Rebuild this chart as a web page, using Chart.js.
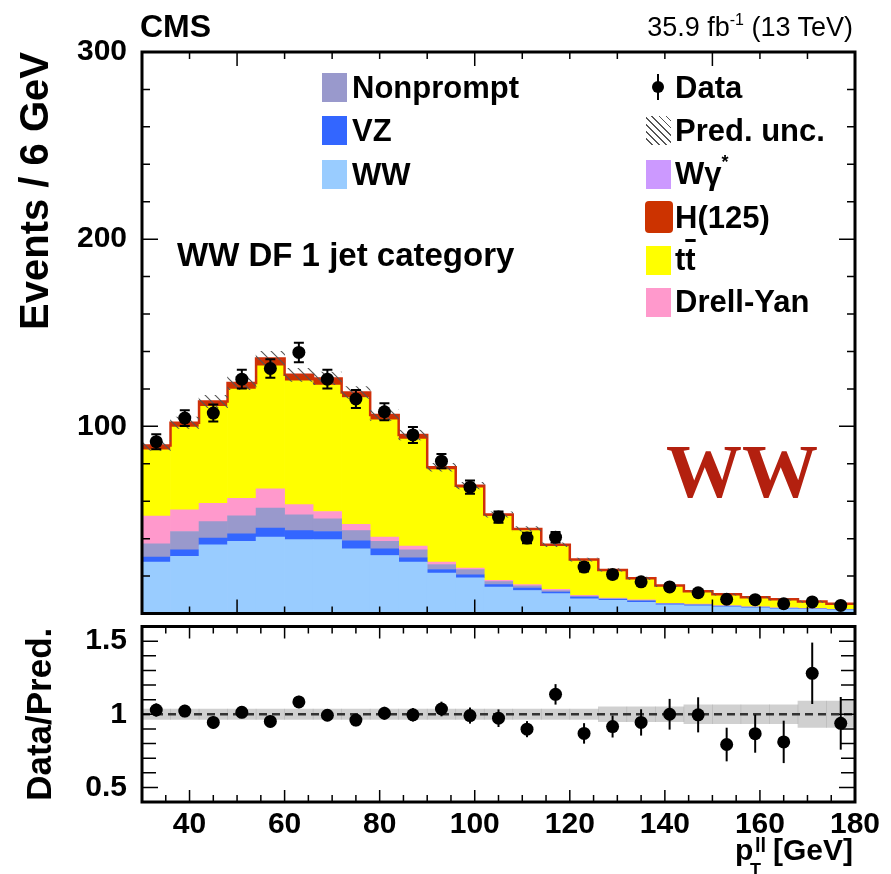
<!DOCTYPE html>
<html><head><meta charset="utf-8">
<script src="https://cdn.jsdelivr.net/npm/chart.js@4.4.1/dist/chart.umd.min.js"></script>
<style>
html,body{margin:0;padding:0;background:#fff;}
#wrap{position:relative;width:891px;height:874px;overflow:hidden;font-family:"Liberation Sans",Arial,sans-serif;background:#fff;}
#cTop{position:absolute;left:0;top:0;width:891px;height:620px;}
#cBot{position:absolute;left:0;top:620px;width:891px;height:254px;}
.t{position:absolute;white-space:nowrap;line-height:1;color:#000;font-weight:bold;font-family:"Liberation Sans",Arial,sans-serif;}
.bx{position:absolute;width:25px;height:29px;}
</style></head><body><div id="wrap">
<canvas id="cTop" width="891" height="620"></canvas>
<canvas id="cBot" width="891" height="254"></canvas>

<div class="t" style="left:140px;top:10px;font-size:32px;">CMS</div>
<div class="t" style="right:38px;top:14px;font-size:27px;font-weight:normal;">35.9 fb<span style="font-size:16px;position:relative;top:-11px;">-1</span> (13 TeV)</div>
<div class="t" style="left:177px;top:238px;font-size:33px;">WW DF 1 jet category</div>
<div class="t" style="left:666px;top:433px;font-size:76px;font-family:'Liberation Serif','Times New Roman',serif;color:#b3200f;">WW</div>

<div class="bx" style="left:322px;top:73px;background:#9999cc;"></div>
<div class="t" style="left:352px;top:72px;font-size:31px;">Nonprompt</div>
<div class="bx" style="left:322px;top:116px;background:#3366ff;"></div>
<div class="t" style="left:352px;top:115px;font-size:31px;">VZ</div>
<div class="bx" style="left:322px;top:160px;background:#99ccff;"></div>
<div class="t" style="left:352px;top:159px;font-size:31px;">WW</div>

<div style="position:absolute;left:657px;top:74px;width:2px;height:26px;background:#000;"></div>
<div style="position:absolute;left:652px;top:81px;width:12px;height:12px;border-radius:50%;background:#000;"></div>
<div class="t" style="left:675px;top:72px;font-size:31px;">Data</div>
<div class="bx" style="left:646px;top:116px;background:repeating-linear-gradient(45deg,#fff 0px,#fff 4px,#555 4px,#555 5px);"></div>
<div class="t" style="left:675px;top:115px;font-size:31px;">Pred. unc.</div>
<div class="bx" style="left:646px;top:160px;background:#cc99ff;"></div>
<div class="t" style="left:675px;top:158px;font-size:31px;">Wγ<span style="font-size:18px;position:relative;top:-16px;">*</span></div>
<div class="bx" style="left:645px;top:201px;width:28px;height:32px;border-radius:4px;background:#cc3300;"></div>
<div class="t" style="left:675px;top:202px;font-size:31px;">H(125)</div>
<div class="bx" style="left:646px;top:246px;background:#ffff00;"></div>
<div class="t" style="left:675px;top:244px;font-size:31px;">t<span style="text-decoration:overline;">t</span></div>
<div class="bx" style="left:646px;top:288px;background:#ff99cc;"></div>
<div class="t" style="left:675px;top:286px;font-size:31px;">Drell-Yan</div>

<div class="t" style="left:735px;top:835px;font-size:30px;">p</div>
<div class="t" style="left:755px;top:835px;font-size:20px;">ll</div>
<div class="t" style="left:750px;top:861px;font-size:18px;">T</div>
<div class="t" style="left:773px;top:835px;font-size:30px;">[GeV]</div>
</div>
<script>
// ---------------- data ----------------
const ptBins = [33,39,45,51,57,63,69,75,81,87,93,99,105,111,117,123,129,135,141,147,153,159,165,171,177];
const binWidth = 6;
const ww        = [27.5,30.5,36.7,38.5,40.8,39.5,39.5,34.6,31.0,27.5,21.6,19.1,14.1,12.3,10.6,7.9,7.0,6.0,4.6,4.1,3.5,3.0,2.5,2.2,1.8];
const vz        = [2.6,3.5,3.6,4.1,4.8,4.8,4.3,4.2,3.6,2.3,1.9,1.6,1.3,1.3,0.9,0.9,0.6,0.6,0.4,0.4,0.3,0.3,0.2,0.2,0.2];
const nonprompt = [7.1,9.8,8.8,9.6,10.7,8.4,6.8,5.5,3.9,4.2,2.7,2.7,1.6,1.2,0.8,0.5,0.4,0.4,0.3,0.3,0.3,0.2,0.2,0.2,0.1];
const drellYan  = [14.8,11.6,9.8,9.4,10.3,5.5,3.9,3.4,2.3,2.0,1.3,0.9,0.7,0.6,0.6,0.4,0.3,0.3,0.2,0.2,0.1,0.1,0.1,0.1,0.1];
const ttbar     = [35.5,44.2,51.8,58.3,65.7,66.1,67.5,67.7,62.7,57.2,49.4,42.8,34.4,29.2,23.2,18.6,14.6,11.1,9.1,6.6,5.8,4.9,4.4,3.5,2.8];
const higgs     = [1.8,1.9,2.2,2.7,3.3,2.8,3.1,2.3,2.1,1.9,1.0,0.9,0.6,0.5,0.5,0.4,0.3,0.3,0.2,0.2,0.2,0.1,0.1,0.1,0.1];
const wgstar    = [0.4,0.4,0.4,0.5,0.7,0.4,0.5,0.4,0.4,0.3,0.2,0.3,0.2,0.1,0.1,0.1,0.1,0.1,0.1,0.05,0.05,0.05,0.05,0.05,0.05];
const predUnc   = [2.6,3.0,3.3,3.5,3.8,3.5,3.4,3.2,2.9,2.6,2.1,1.8,1.4,1.2,1.0,0.8,0.7,0.6,0.5,0.5,0.4,0.4,0.4,0.4,0.3];
const dataCounts = [91.8,104.4,107.1,125.2,130.9,139.5,125.2,114.6,107.8,95.4,81.4,67.5,51.5,40.3,40.8,24.8,20.9,16.9,14.2,11.1,7.6,7.4,5.2,6.2,4.3];
const dataErr    = [4.0,4.2,4.5,5.0,5.0,5.2,5.0,4.8,4.5,4.3,3.8,3.5,3.0,2.8,2.8,2.3,2.0,1.8,1.7,1.5,1.2,1.2,1.0,1.1,0.9];
const ratio      = [1.029,1.022,0.944,1.013,0.951,1.084,0.993,0.960,1.007,0.996,1.036,0.991,0.973,0.898,1.136,0.869,0.916,0.944,1.000,0.996,0.793,0.867,0.811,1.280,0.938];
const ratioErr   = [0.045,0.042,0.042,0.040,0.040,0.042,0.040,0.042,0.044,0.046,0.050,0.055,0.060,0.055,0.070,0.070,0.075,0.090,0.105,0.120,0.115,0.130,0.145,0.210,0.180];
const ratioUnc   = [0.035,0.035,0.035,0.035,0.035,0.035,0.035,0.035,0.035,0.035,0.035,0.035,0.035,0.035,0.035,0.035,0.05,0.05,0.05,0.065,0.065,0.065,0.065,0.09,0.09];
const mainYTicks  = [100,200,300];
const ratioYTicks = [0.5,1,1.5];
const xTickLabels = [40,60,80,100,120,140,160,180];
const xMin = 30, xMax = 180;

// ---------------- derived tables ----------------
const components = [
  {label:'WW', values:ww, color:'#99ccff'},
  {label:'VZ', values:vz, color:'#3366ff'},
  {label:'Nonprompt', values:nonprompt, color:'#9999cc'},
  {label:'Drell-Yan', values:drellYan, color:'#ff99cc'},
  {label:'tt', values:ttbar, color:'#ffff00'},
  {label:'H(125)', values:higgs, color:'#cc3300'},
  {label:'Wgamma*', values:wgstar, color:'#cc99ff'}
];
const total = ptBins.map((_, i) => components.reduce((s, c) => s + c.values[i], 0));
const edges = ptBins.map(c => c - binWidth / 2).concat([ptBins[ptBins.length - 1] + binWidth / 2]);
const outlinePts = edges.map((e, i) => ({x: e, y: total[Math.min(i, total.length - 1)]}));

const FONT = 'Liberation Sans';

function hatch(ctx) {
  const c = document.createElement('canvas');
  c.width = 10; c.height = 10;
  const g = c.getContext('2d');
  g.strokeStyle = '#555'; g.lineWidth = 1.1;
  g.beginPath();
  g.moveTo(0, 0); g.lineTo(10, 10);
  g.moveTo(-2, 8); g.lineTo(2, 12);
  g.moveTo(8, -2); g.lineTo(12, 2);
  g.stroke();
  return ctx.createPattern(c, 'repeat');
}

const noPad = s => { s.paddingTop = 0; s.paddingBottom = 0; s.paddingLeft = 0; s.paddingRight = 0; };

// error bars plugin
const errBars = {
  id: 'errBars',
  beforeDatasetDraw(chart, args) {
    const ds = chart.data.datasets[args.index];
    if (!ds.errorBars) return;
    const ys = chart.scales.y, ctx = chart.ctx;
    ctx.save();
    ctx.strokeStyle = '#000'; ctx.lineWidth = 2;
    args.meta.data.forEach((pt, i) => {
      const v = ds.data[i].y, e = ds.errorBars[i];
      const y1 = ys.getPixelForValue(v + e), y2 = ys.getPixelForValue(v - e);
      ctx.beginPath(); ctx.moveTo(pt.x, y1); ctx.lineTo(pt.x, y2);
      if (ds.errorCaps) {
        ctx.moveTo(pt.x - 5, y1); ctx.lineTo(pt.x + 5, y1);
        ctx.moveTo(pt.x - 5, y2); ctx.lineTo(pt.x + 5, y2);
      }
      ctx.stroke();
    });
    ctx.restore();
  }
};

// frame + inward ticks (ROOT style)
const frameTicks = {
  id: 'frameTicks',
  afterDraw(chart, args, o) {
    const {ctx, chartArea: a} = chart;
    const xs = chart.scales.x, ys = chart.scales.y;
    ctx.save();
    ctx.strokeStyle = '#000'; ctx.lineWidth = 1.5;
    const eps = 1e-6;
    const loop = (min, max, minor, major, fn) => {
      for (let k = Math.ceil(min / minor - eps); k * minor <= max + eps; k++) {
        const v = k * minor;
        if (v <= min + eps || v >= max - eps) continue;
        const r = v / major;
        fn(v, Math.abs(r - Math.round(r)) < 1e-6);
      }
    };
    ctx.beginPath();
    loop(xs.min, xs.max, o.xMinor, o.xMajor, (v, maj) => {
      const p = xs.getPixelForValue(v), L = maj ? o.xMajLen : o.xMinLen;
      ctx.moveTo(p, a.bottom); ctx.lineTo(p, a.bottom - L);
      ctx.moveTo(p, a.top); ctx.lineTo(p, a.top + L);
    });
    loop(ys.min, ys.max, o.yMinor, o.yMajor, (v, maj) => {
      const p = ys.getPixelForValue(v), L = maj ? o.yMajLen : o.yMinLen;
      ctx.moveTo(a.left, p); ctx.lineTo(a.left + L, p);
      ctx.moveTo(a.right, p); ctx.lineTo(a.right - L, p);
    });
    ctx.stroke();
    ctx.lineWidth = 3;
    ctx.strokeRect(a.left, a.top, a.right - a.left, a.bottom - a.top);
    ctx.restore();
  }
};
Chart.register(errBars, frameTicks);

// ---------------- main panel ----------------
const topCanvas = document.getElementById('cTop');
const topCtx = topCanvas.getContext('2d');
const mainDatasets = components.map((c, i) => ({
  type: 'bar', label: c.label,
  data: ptBins.map((x, j) => ({x: x, y: c.values[j]})),
  backgroundColor: c.color, borderWidth: 0,
  stack: 'mc', grouped: false, barPercentage: 1, categoryPercentage: 1,
  order: 10 + i
}));
mainDatasets.push({
  type: 'line', label: 'outline', data: outlinePts, stepped: true,
  borderColor: '#d0300a', borderWidth: 2.5, pointRadius: 0, fill: false, order: 3
});
mainDatasets.push({
  type: 'bar', label: 'Pred. unc.',
  data: ptBins.map((x, j) => ({x: x, y: [total[j] - predUnc[j], total[j] + predUnc[j]]})),
  backgroundColor: hatch(topCtx), borderWidth: 0, grouped: false, barPercentage: 1, categoryPercentage: 1,
  order: 2
});
mainDatasets.push({
  type: 'scatter', label: 'Data',
  data: ptBins.map((x, j) => ({x: x, y: dataCounts[j]})),
  errorBars: dataErr, errorCaps: true,
  pointRadius: 6.5, pointBackgroundColor: '#000', pointBorderWidth: 0, showLine: false,
  order: 0
});

new Chart(topCtx, {
  data: {datasets: mainDatasets},
  options: {
    responsive: false, animation: false, events: [],
    layout: {padding: {left: 0, right: 36, top: 52, bottom: 5}},
    plugins: {
      legend: {display: false}, tooltip: {enabled: false},
      frameTicks: {xMinor: 10, xMajor: 50, xMajLen: 14, xMinLen: 7, yMinor: 20, yMajor: 100, yMajLen: 16, yMinLen: 8}
    },
    scales: {
      x: {type: 'linear', min: xMin, max: xMax, offset: false, display: false,
          afterBuildTicks: s => { s.ticks = xTickLabels.map(v => ({value: v})); },
          afterFit: noPad},
      y: {type: 'linear', min: 0, max: 300,
          afterBuildTicks: s => { s.ticks = mainYTicks.map(v => ({value: v})); },
          afterFit: s => { s.width = 142; noPad(s); },
          grid: {display: false, drawTicks: false}, border: {display: false},
          ticks: {padding: 15, color: '#000', font: {family: FONT, size: 30, weight: 'bold'}},
          title: {display: true, text: 'Events / 6 GeV', align: 'end', color: '#000',
                  font: {family: FONT, size: 40, weight: 'bold'}, padding: {top: 13, bottom: 0}}}
    }
  }
});

// ---------------- ratio panel ----------------
const botCtx = document.getElementById('cBot').getContext('2d');
new Chart(botCtx, {
  data: {datasets: [
    {type: 'bar', label: 'unc',
     data: ptBins.map((x, j) => ({x: x, y: [1 - ratioUnc[j], 1 + ratioUnc[j]]})),
     backgroundColor: 'rgba(150,150,150,0.45)', borderWidth: 0, grouped: false, barPercentage: 1, categoryPercentage: 1,
     order: 2},
    {type: 'line', label: 'one',
     data: [{x: xMin, y: 1}, {x: xMax, y: 1}],
     borderColor: '#333', borderWidth: 2.5, borderDash: [8, 5], pointRadius: 0, fill: false, order: 1},
    {type: 'scatter', label: 'ratio',
     data: ptBins.map((x, j) => ({x: x, y: ratio[j]})),
     errorBars: ratioErr, errorCaps: false,
     pointRadius: 6.5, pointBackgroundColor: '#000', pointBorderWidth: 0, showLine: false, order: 0}
  ]},
  options: {
    responsive: false, animation: false, events: [],
    layout: {padding: {left: 0, right: 36, top: 3, bottom: 0}},
    plugins: {
      legend: {display: false}, tooltip: {enabled: false},
      frameTicks: {xMinor: 5, xMajor: 20, xMajLen: 12, xMinLen: 7, yMinor: 0.1, yMajor: 0.5, yMajLen: 16, yMinLen: 14}
    },
    scales: {
      x: {type: 'linear', min: xMin, max: xMax, offset: false,
          afterBuildTicks: s => { s.ticks = xTickLabels.map(v => ({value: v})); },
          afterFit: s => { s.height = 72; noPad(s); },
          grid: {display: false, drawTicks: false}, border: {display: false},
          ticks: {padding: 5, autoSkip: false, maxRotation: 0, color: '#000', font: {family: FONT, size: 30, weight: 'bold'}}},
      y: {type: 'linear', min: 0.4, max: 1.6,
          afterBuildTicks: s => { s.ticks = ratioYTicks.map(v => ({value: v})); },
          afterFit: s => { s.width = 142; noPad(s); },
          grid: {display: false, drawTicks: false}, border: {display: false},
          ticks: {padding: 15, color: '#000', font: {family: FONT, size: 30, weight: 'bold'}, callback: v => String(v)},
          title: {display: true, text: 'Data/Pred.', align: 'center', color: '#000',
                  font: {family: FONT, size: 35, weight: 'bold'}, padding: {top: 20, bottom: 0}}}
    }
  }
});
</script>
</body></html>
